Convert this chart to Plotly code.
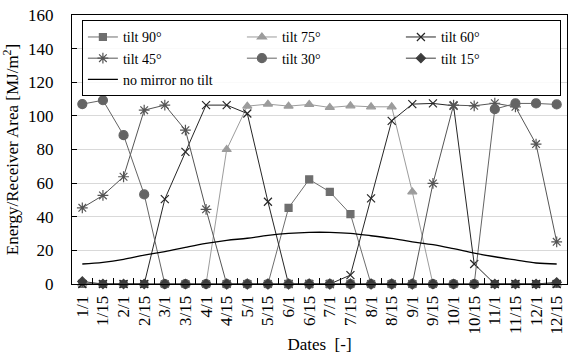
import plotly.graph_objects as go

# Sampling dates through the year
dates = ["1/1", "1/15", "2/1", "2/15", "3/1", "3/15", "4/1", "4/15", "5/1", "5/15",
         "6/1", "6/15", "7/1", "7/15", "8/1", "8/15", "9/1", "9/15", "10/1", "10/15",
         "11/1", "11/15", "12/1", "12/15"]

# Energy per receiver area [MJ/m2] for each mirror tilt
tilt_90 = [0, 0, 0, 0, 0, 0, 0, 0, 0, 0, 45.3, 62.2, 54.8, 41.6, 0, 0, 0, 0, 0, 0, 0, 0, 0, 0]
tilt_75 = [0, 0, 0, 0, 0, 0, 0, 80.0, 105.8, 107.0, 105.8, 106.8, 105.0, 106.0, 105.4, 105.4,
           54.8, 0, 0, 0, 0, 0, 0, 0]
tilt_60 = [0, 0, 0, 0, 50.5, 78.6, 106.4, 106.4, 101.4, 48.9, 0, 0, 0, 5.3, 50.9, 97.0,
           107.0, 107.4, 106.0, 11.9, 0, 0, 0, 0]
tilt_45 = [45.3, 52.7, 63.8, 103.4, 106.4, 91.5, 44.4, 0, 0, 0, 0, 0, 0, 0, 0, 0, 0,
           59.8, 106.4, 106.0, 107.5, 105.4, 83.2, 25.1]
tilt_30 = [107.0, 109.3, 88.5, 53.3, 0, 0, 0, 0, 0, 0, 0, 0, 0, 0, 0, 0, 0, 0, 0, 0,
           104.0, 107.4, 107.4, 106.8]
tilt_15 = [1.5, 0, 0, 0, 0, 0, 0, 0, 0, 0, 0, 0, 0, 0, 0, 0, 0, 0, 0, 0, 0, 0, 0, 1.0]
no_mirror = [11.9, 12.9, 14.7, 17.2, 19.2, 21.8, 24.2, 26.0, 27.2, 28.9, 30.1, 30.7, 30.7,
             30.1, 28.7, 27.1, 25.1, 23.4, 21.0, 18.4, 16.2, 14.3, 12.5, 11.9]

FONT = "Liberation Serif, Times New Roman, serif"

series = [
    ("tilt 90°", tilt_90, "square", "#6e6e6e", 7),
    ("tilt 75°", tilt_75, "triangle-up", "#9c9c9c", 8),
    ("tilt 60°", tilt_60, "x-thin-open", "#262626", 8),
    ("tilt 45°", tilt_45, "asterisk-open", "#555555", 9),
    ("tilt 30°", tilt_30, "circle", "#646464", 9),
    ("tilt 15°", tilt_15, "diamond", "#3c3c3c", 7),
]

fig = go.Figure()
for name, vals, sym, col, sz in series:
    fig.add_trace(go.Scatter(
        x=dates, y=vals, name=name, mode="lines+markers",
        line=dict(color=col, width=1),
        marker=dict(symbol=sym, size=sz, color=col, line=dict(color=col, width=1.2)),
        cliponaxis=False,
    ))

fig.add_trace(go.Scatter(
    x=dates, y=no_mirror, name="no mirror no tilt", mode="lines",
    line=dict(color="black", width=1.3, shape="spline"),
))

fig.update_layout(
    width=568, height=354,
    margin=dict(l=72, r=1, t=15, b=70),
    paper_bgcolor="white", plot_bgcolor="white",
    font=dict(family=FONT, size=17, color="black"),
    legend=dict(
        orientation="h", x=0.02, y=0.98, xanchor="left", yanchor="top",
        entrywidth=114, itemwidth=30,
        bordercolor="black", borderwidth=1, bgcolor="rgba(255,255,255,0.85)",
        font=dict(family=FONT, size=14, color="black"),
        tracegroupgap=0,
    ),
)

fig.update_xaxes(
    type="category", range=[-0.5, 23.5],
    tickangle=-90, tickson="boundaries", ticks="inside", ticklen=6,
    tickcolor="black", showline=True, linecolor="black", linewidth=1, mirror=True,
    showgrid=False, ticklabelstandoff=4,
    title=dict(text="Dates  [-]", standoff=6, font=dict(size=17)),
    tickfont=dict(size=17),
)

fig.update_yaxes(
    range=[0, 160], dtick=20, ticks="inside", ticklen=5, tickcolor="black",
    showline=True, linecolor="black", linewidth=1, mirror=True,
    showgrid=True, gridcolor="#d9d9d9", gridwidth=1, zeroline=False,
    ticklabelstandoff=14,
    title=dict(text="Energy/Receiver Area [MJ/m<sup>2</sup>]", standoff=6, font=dict(size=17)),
    tickfont=dict(size=17),
)

fig.write_html("out.html")
